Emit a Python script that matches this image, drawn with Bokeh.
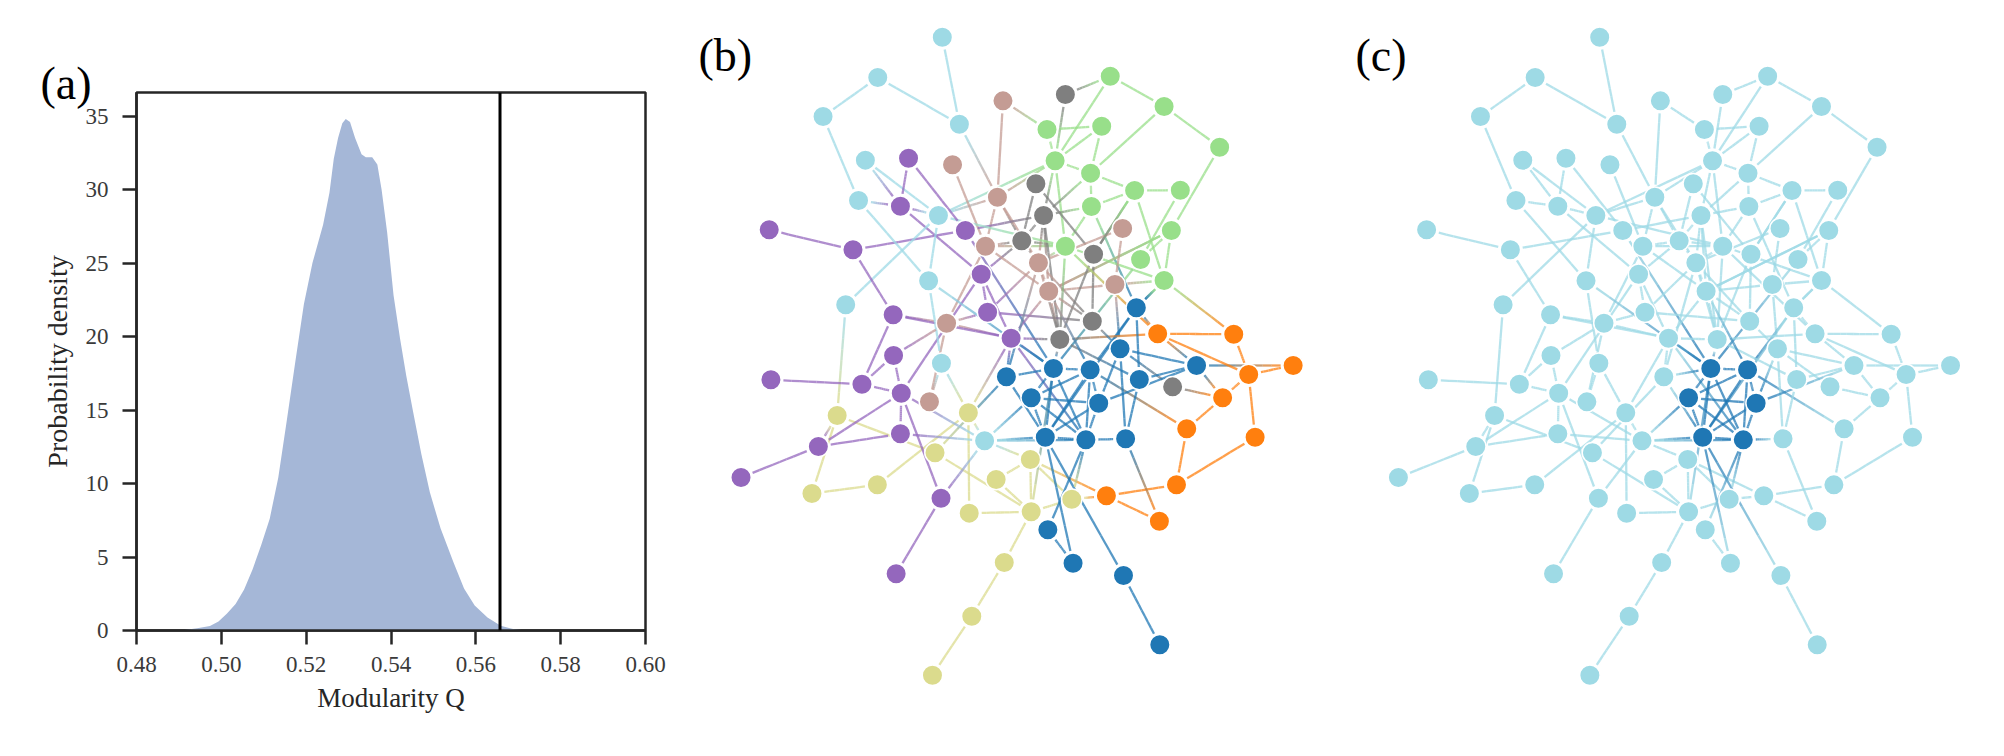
from bokeh.plotting import figure
from bokeh.layouts import row
from bokeh.models import Range1d, FixedTicker, NumeralTickFormatter, Span, Label, ColumnDataSource, Title
from bokeh.embed import file_html
from bokeh.resources import INLINE

# ---- panel (a) data
q_values = [.48, .48826, .49128, .49430, .49732, .49933, .50134, .50336, .50537, .50738, .50940, .51141, .51342,
            .51544, .51745, .51946, .52148, .52399, .52550, .52651, .52752, .52852, .52933, .53034, .53154,
            .53305, .53406, .53557, .53678, .53778, .53909, .54060, .54211, .54362, .54513, .54715, .54916,
            .55168, .55470, .55722, .55973, .56275, .56587, .56879, .57181, .60]
density = [0, 0, .03, .16, .30, .62, 1.15, 1.80, 2.79, 4.17, 5.81, 7.61, 10.4, 14.3, 18.3, 22.2, 25.0, 27.6, 29.8,
           32.1, 33.5, 34.5, 34.8, 34.6, 33.5, 32.4, 32.2, 32.2, 31.7, 30.0, 27.1, 22.8, 19.9, 17.3, 15.0, 12.0,
           9.4, 6.95, 4.66, 2.85, 1.70, .89, .33, .10, 0, 0]
observed_q = 0.5657
x_ticks = [.48, .50, .52, .54, .56, .58, .60]
y_ticks = [0, 5, 10, 15, 20, 25, 30, 35]

# ---- network data (node positions in the drawing's own units)
teal_x = [636, 485, 357, 676, 456, 440, 627, 604, 410, 634, 735]
teal_y = [110, 231, 348, 371, 479, 600, 645, 841, 913, 1088, 1321]
purple_x = [557, 538, 231, 427, 690, 727, 742, 521, 797, 522, 235, 448, 540, 538, 346, 165, 633, 528]
purple_y = [473, 617, 688, 748, 690, 821, 935, 943, 1013, 1065, 1138, 1151, 1178, 1300, 1338, 1431, 1493, 1720]
brown_x = [778, 660, 765, 737, 861, 885, 1058, 1040, 646, 606]
brown_y = [301, 493, 590, 737, 787, 872, 684, 852, 968, 1204]
gray_x = [924, 855, 873, 822, 990, 987, 911, 1175]
gray_y = [282, 550, 645, 721, 761, 962, 1017, 1159]
green_x = [1029, 1155, 1285, 881, 1009, 900, 983, 1086, 1193, 985, 1172, 924, 1100, 1155]
green_y = [227, 318, 440, 387, 377, 481, 518, 570, 569, 618, 690, 737, 777, 840]
blue_x = [1090, 1052, 1231, 786, 896, 982, 1097, 844, 1002, 877, 972, 1065, 883, 942, 1060, 1145]
blue_y = [922, 1045, 1095, 1129, 1104, 1108, 1137, 1192, 1208, 1310, 1318, 1315, 1588, 1688, 1725, 1933]
orange_x = [1140, 1318, 1457, 1353, 1292, 1208, 1368, 1184, 1020, 1144]
orange_y = [1000, 1001, 1095, 1122, 1192, 1285, 1310, 1453, 1486, 1562]
olive_x = [390, 697, 619, 842, 762, 939, 699, 844, 331, 484, 781, 705, 613]
olive_y = [1245, 1237, 1357, 1377, 1437, 1496, 1538, 1534, 1479, 1453, 1686, 1847, 2024]

edges_text = """
T0-T3 T1-T2 T1-T3 T2-T5 T3-B2 B0-N3 B0-B2 G0-N0 G0-N5 N0-N5 N0-N1 N1-N6 N1-N2 N2-N10 N3-N4 N3-N5 N4-N5 N4-N6
N5-N6 N5-B2 N5-N11 N5-G2 N6-N7 N6-N9 N6-G2 N7-N8 N7-N9 N7-N13 N7-G4 N8-N12 N9-G2 N9-N11 N9-D0 N10-N12 N10-N13
N10-B5 B3-N11 G3-N11 T6-N5 T6-B2 B2-B3 B2-G3 B2-B4 B1-B3 G1-G3 G1-G4 G2-G3 G2-P4 G2-B4 G2-B5 G2-G6 G3-B3 T6-N11
P3-P4 P0-P4 P1-P5 P4-D4 P5-P6 P5-P8 P5-G3 P5-P12 B3-B5 B3-B8 P6-B4 P6-G5 P6-B8 P7-B8 B8-P8 P7-P8 P8-G6 P8-B5
D3-B4 B4-N11 B4-G3 B4-B5 B4-B6 B5-N10 B5-B7 B5-G6 B4-G5 G4-G6 N11-G6 G4-G5 G4-N7 N11-O0 N11-N13 B6-B7 B7-D1
B7-N13 N12-D4 D0-N13 D0-O0 D0-D5 D0-D9 P8-D4 P8-D3 P8-D10 P8-Y1 G6-D4 G6-O0 D5-O5 G6-D6 G5-D1 D1-G7 G7-O4
D1-D2 D1-D11 D1-D8 D0-D6 D6-D2 D8-D2 D6-D11 D11-D10 D2-O2 D2-O4 O3-O4 O3-O2 O3-O0 O0-D2 O0-O1 O1-O3 O3-O6
O4-O5 O5-O7 O6-O7 O7-O8 O8-O9 D11-O9 O8-Y3 O8-Y5 Y5-Y3 Y7-Y5 Y6-Y7 Y7-Y2 Y7-Y4 Y4-Y3 Y3-Y7 Y3-T10 Y7-Y10
Y10-Y11 Y11-Y12 Y1-Y6 Y1-Y9 Y8-Y9 Y8-Y0 Y0-Y2 T8-Y0 Y0-P14 Y1-T9 Y1-T10 Y2-D3 P12-P9 P12-P11 P12-P13 P12-T10
P12-P16 P12-P14 P9-P11 P11-P7 P11-P10 P13-P14 P13-T10 P14-P15 P16-P17 P16-T10 T10-D9 T10-D10 T10-D7 B8-B9
T9-B9 T7-T9 T7-T5 T7-D4 T8-T6 T5-P1 P1-T6 P1-T4 T4-T6 P0-P1 T6-T7 P3-P2 P3-P7 P9-B8 D4-D5 D4-D7 D4-D9 D4-D10
D5-D7 D5-D9 D5-D10 D5-D8 D7-D8 D7-D9 D7-D10 D8-D9 D8-D10 D9-D10 D3-D4 D3-D9 D9-D13 D9-D14 D10-D12 D10-Y5
D12-D13 D14-D15 D4-Y7 B5-D5 B4-G6 N13-O1 N13-D0 G5-B5
"""
dark_in_c = ["D4", "D5", "D7", "D8", "D9", "D10"]

TEAL, PURPLE, BROWN, GRAY = "#9edae5", "#9467bd", "#c49c94", "#7f7f7f"
GREEN, BLUE, ORANGE, OLIVE = "#98df8a", "#1f77b4", "#ff7f0e", "#dbdb8d"
TEXT = "#262626"
SERIF = "Liberation Serif"

# unit sizes of the drawing's coordinates, in page pixels
UX, UY = 2.34, 3.0
R_GAP = 12.5
SPLITS = 8
H = 750

pos, col_b = {}, {}
for pre, xs, ys, c in [("T", teal_x, teal_y, TEAL), ("P", purple_x, purple_y, PURPLE), ("B", brown_x, brown_y, BROWN),
                       ("G", gray_x, gray_y, GRAY), ("N", green_x, green_y, GREEN), ("D", blue_x, blue_y, BLUE),
                       ("O", orange_x, orange_y, ORANGE), ("Y", olive_x, olive_y, OLIVE)]:
    for i, (x, y) in enumerate(zip(xs, ys)):
        pos[f"{pre}{i}"] = (x, y)
        col_b[f"{pre}{i}"] = c
col_c = {k: (BLUE if k in dark_in_c else TEAL) for k in pos}
edges = [e.split("-") for e in edges_text.split()]


def rgb(h):
    return [int(h[i:i + 2], 16) for i in (1, 3, 5)]


def edge_source(colors):
    d = dict(x0=[], y0=[], x1=[], y1=[], c=[])
    for a, b in edges:
        (xa, ya), (xb, yb) = pos[a], pos[b]
        L = (((xb - xa) / UX) ** 2 + ((yb - ya) / UY) ** 2) ** 0.5
        t0, t1 = R_GAP / L, 1 - R_GAP / L
        ca, cb = rgb(colors[a]), rgb(colors[b])
        for k in range(SPLITS):
            s0 = t0 + (t1 - t0) * k / SPLITS
            s1 = t0 + (t1 - t0) * (k + 1) / SPLITS
            sm = (k + .5) / SPLITS
            d["x0"].append(xa + (xb - xa) * s0)
            d["y0"].append(ya + (yb - ya) * s0)
            d["x1"].append(xa + (xb - xa) * s1)
            d["y1"].append(ya + (yb - ya) * s1)
            d["c"].append("#%02x%02x%02x" % tuple(round(u + (v - u) * sm) for u, v in zip(ca, cb)))
    return ColumnDataSource(d)


def network(width, x0, colors, letter, lx):
    p = figure(width=width, height=H, x_range=Range1d(x0, x0 + width * UX), y_range=Range1d(H * UY, 0),
               output_backend="svg", toolbar_location=None, x_axis_type=None, y_axis_type=None,
               min_border=0, outline_line_color=None, frame_align=False)
    p.grid.visible = False
    p.segment("x0", "y0", "x1", "y1", source=edge_source(colors), line_color="c", line_alpha=0.75, line_width=2.3)
    names = list(pos)
    p.scatter([pos[k][0] for k in names], [pos[k][1] for k in names], size=20.5,
              fill_color=[colors[k] for k in names], line_color="white", line_width=1.5)
    p.add_layout(Label(x=lx, y=695, x_units="screen", y_units="screen", text=letter, text_font=SERIF,
                       text_font_size="46px", text_color="black", text_baseline="alphabetic"))
    return p


# ---- panel (a)
pa = figure(width=670, height=H, x_range=Range1d(.48, .60), y_range=Range1d(0, 36.6),
            output_backend="svg", toolbar_location=None, min_border_left=136, min_border_right=25,
            min_border_top=92, min_border_bottom=H - 630, outline_line_color=TEXT, outline_line_width=2.5,
            frame_align=False,
            title=Title(text="(a)", align="left", offset=-96, standoff=-33, text_font=SERIF,
                        text_font_size="46px", text_font_style="normal", text_color="black"))
pa.grid.visible = False
pa.varea(q_values, [0] * len(q_values), density, fill_color="#a5b7d7")
pa.add_layout(Span(location=observed_q, dimension="height", line_color="black", line_width=3))
pa.xaxis.ticker = FixedTicker(ticks=x_ticks)
pa.yaxis.ticker = FixedTicker(ticks=y_ticks)
pa.xaxis.formatter = NumeralTickFormatter(format="0.00")
pa.xaxis.axis_label = "Modularity Q"
pa.yaxis.axis_label = "Probability density"
for ax in (pa.xaxis[0], pa.yaxis[0]):
    ax.major_tick_in = 0
    ax.major_tick_out = 14
    ax.minor_tick_out = 0
    ax.minor_tick_in = 0
    ax.major_tick_line_width = 2.5
    ax.major_tick_line_color = TEXT
    ax.axis_line_width = 2.5
    ax.axis_line_color = TEXT
    ax.major_label_text_font = SERIF
    ax.major_label_text_font_size = "23px"
    ax.major_label_text_color = "#3a3a3a"
    ax.axis_label_text_font = SERIF
    ax.axis_label_text_font_style = "normal"
    ax.axis_label_text_color = TEXT
pa.xaxis[0].major_label_standoff = 12
pa.yaxis[0].major_label_standoff = 14
pa.xaxis[0].axis_label_standoff = 8
pa.yaxis[0].axis_label_standoff = 10
pa.xaxis[0].axis_label_text_font_size = "27px"
pa.yaxis[0].axis_label_text_font_size = "28px"

pb = network(660, 0, col_b, "(b)", 28)
pc = network(674, 2.6 * UX, col_c, "(c)", 25)

layout = row(pa, pb, pc, spacing=0)
open("out.html", "w").write(file_html(layout, INLINE))
